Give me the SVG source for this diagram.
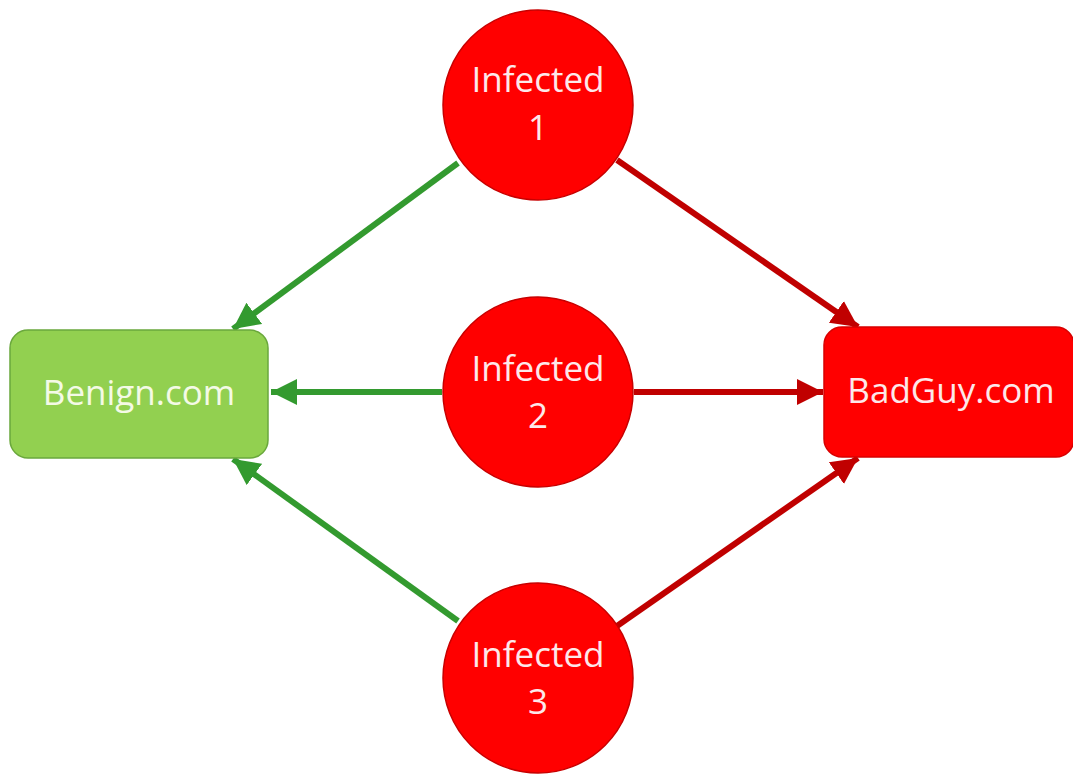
<svg xmlns="http://www.w3.org/2000/svg" width="1073" height="776" viewBox="0 0 1073 776">
  <defs>
    <marker id="ah-green" viewBox="0 0 10 10" refX="10" refY="5" markerWidth="4.4" markerHeight="4.6" orient="auto" markerUnits="strokeWidth">
      <path d="M0,0 L10,5 L0,10 Z" fill="#339a2f"/>
    </marker>
    <marker id="ah-red" viewBox="0 0 10 10" refX="10" refY="5" markerWidth="4.4" markerHeight="4.6" orient="auto" markerUnits="strokeWidth">
      <path d="M0,0 L10,5 L0,10 Z" fill="#c00000"/>
    </marker>
  </defs>
  <style>
    .lbl { font-family: "Open Sans", "Noto Sans", "Liberation Sans", sans-serif; font-size: 35px; text-anchor: middle; }
    .infected { fill: #ff0000; stroke: #c80000; stroke-width: 1.5; }
    .good { stroke: #339a2f; stroke-width: 6; fill: none; marker-end: url(#ah-green); }
    .bad { stroke: #c00000; stroke-width: 6; fill: none; marker-end: url(#ah-red); }
  </style>

  <g id="connectors">
    <line class="good" x1="458" y1="163" x2="233" y2="329"/>
    <line class="good" x1="442" y1="392" x2="271" y2="392"/>
    <line class="good" x1="458" y1="621" x2="233" y2="459"/>
    <line class="bad" x1="617" y1="160" x2="858" y2="327"/>
    <line class="bad" x1="634" y1="392" x2="823" y2="392"/>
    <line class="bad" x1="617" y1="626" x2="858" y2="458"/>
  </g>

  <g id="benign">
    <rect x="10" y="330" width="258" height="128" rx="18" fill="#92d050" stroke="#6aa83c" stroke-width="1.5"/>
    <text class="lbl" x="139" y="405" fill="#f4fae6">Benign.com</text>
  </g>

  <g id="badguy">
    <rect x="824" y="327" width="250" height="130" rx="18" fill="#ff0000" stroke="#d80000" stroke-width="1.5"/>
    <text class="lbl" x="951" y="403" fill="#fde8ea">BadGuy.com</text>
  </g>

  <g id="infected1">
    <circle class="infected" cx="538" cy="105" r="95"/>
    <text class="lbl" x="538" y="92" fill="#fde8ea">Infected</text>
    <text class="lbl" x="538" y="140" fill="#fde8ea">1</text>
  </g>

  <g id="infected2">
    <circle class="infected" cx="538" cy="392" r="95"/>
    <text class="lbl" x="538" y="381" fill="#fde8ea">Infected</text>
    <text class="lbl" x="538" y="428" fill="#fde8ea">2</text>
  </g>

  <g id="infected3">
    <circle class="infected" cx="538" cy="678" r="95"/>
    <text class="lbl" x="538" y="667" fill="#fde8ea">Infected</text>
    <text class="lbl" x="538" y="714" fill="#fde8ea">3</text>
  </g>
</svg>
